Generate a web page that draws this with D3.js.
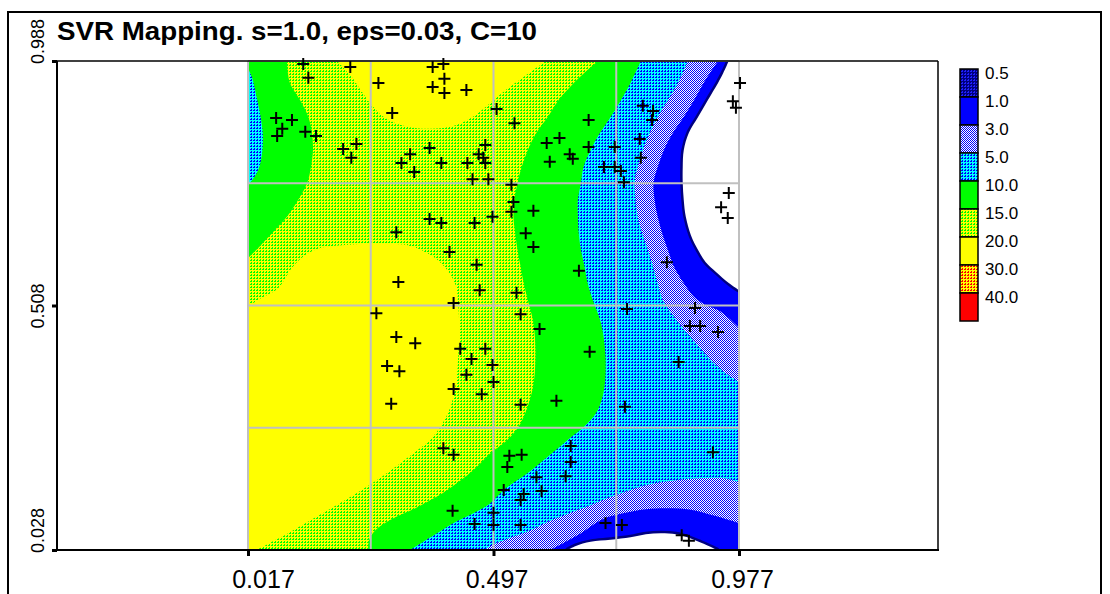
<!DOCTYPE html>
<html>
<head>
<meta charset="utf-8">
<script src="https://cdn.jsdelivr.net/npm/d3@7"></script>
<style>
	body { margin: 0; background: #fff; }
	text { font-family: 'Liberation Sans', Arial, sans-serif; }
</style>
</head>
<body>
<div id="chart"></div>
<script>
const title = 'SVR Mapping. s=1.0, eps=0.03, C=10';
const xTicks = [0.017, 0.497, 0.977];
const yTicks = [0.028, 0.508, 0.988];
const gridValuesX = [0.017, 0.257, 0.497, 0.737, 0.977];
const gridValuesY = [0.028, 0.268, 0.508, 0.748, 0.988];
const legendLevels = ['0.5', '1.0', '3.0', '5.0', '10.0', '15.0', '20.0', '30.0', '40.0'];

// contour lines, [x, y] in data units
const contour20Top = [[0.191, 0.988], [0.221, 0.955], [0.240, 0.927], [0.260, 0.900], [0.285, 0.876], [0.325, 0.860], [0.374, 0.855], [0.423, 0.862], [0.462, 0.882], [0.491, 0.906], [0.521, 0.931], [0.554, 0.955], [0.599, 0.988]];
const contour20Left = [[0.017, 0.507], [0.044, 0.523], [0.076, 0.542], [0.103, 0.582], [0.129, 0.607], [0.158, 0.621], [0.207, 0.627], [0.276, 0.629], [0.334, 0.625], [0.374, 0.607], [0.403, 0.582], [0.423, 0.548], [0.428, 0.509], [0.430, 0.460], [0.428, 0.407], [0.423, 0.352], [0.409, 0.299], [0.378, 0.250], [0.334, 0.213], [0.280, 0.173], [0.217, 0.132], [0.154, 0.095], [0.099, 0.063], [0.056, 0.040], [0.033, 0.028]];
const contour15Left = [[0.093, 0.988], [0.099, 0.945], [0.119, 0.911], [0.135, 0.878], [0.142, 0.847], [0.144, 0.813], [0.140, 0.780], [0.133, 0.749], [0.115, 0.715], [0.093, 0.682], [0.064, 0.650], [0.037, 0.621], [0.017, 0.601]];
const contour15Mid = [[0.701, 0.988], [0.654, 0.945], [0.624, 0.911], [0.603, 0.878], [0.581, 0.847], [0.564, 0.813], [0.552, 0.780], [0.544, 0.749], [0.538, 0.715], [0.536, 0.682], [0.540, 0.646], [0.544, 0.617], [0.550, 0.584], [0.556, 0.552], [0.564, 0.519], [0.575, 0.474], [0.579, 0.407], [0.573, 0.342], [0.550, 0.277], [0.524, 0.244], [0.491, 0.218], [0.458, 0.185], [0.407, 0.146], [0.348, 0.112], [0.295, 0.087], [0.266, 0.067], [0.254, 0.048], [0.252, 0.028]];
const contour10Left = [[0.017, 0.974], [0.025, 0.955], [0.033, 0.921], [0.041, 0.882], [0.046, 0.843], [0.044, 0.803], [0.037, 0.774], [0.025, 0.754], [0.017, 0.745]];
const contour10Mid = [[0.785, 0.988], [0.765, 0.945], [0.746, 0.911], [0.726, 0.878], [0.703, 0.843], [0.687, 0.813], [0.673, 0.780], [0.668, 0.749], [0.662, 0.715], [0.662, 0.682], [0.664, 0.646], [0.668, 0.617], [0.675, 0.584], [0.681, 0.552], [0.691, 0.519], [0.707, 0.474], [0.716, 0.407], [0.713, 0.342], [0.701, 0.303], [0.681, 0.277], [0.642, 0.244], [0.603, 0.211], [0.564, 0.179], [0.517, 0.146], [0.491, 0.120], [0.452, 0.097], [0.419, 0.081], [0.374, 0.053], [0.334, 0.028]];
const contour5Top = [[0.877, 0.988], [0.858, 0.945], [0.838, 0.911], [0.818, 0.878], [0.801, 0.843], [0.789, 0.813], [0.779, 0.780], [0.773, 0.749], [0.775, 0.715], [0.779, 0.682], [0.789, 0.646], [0.799, 0.617], [0.809, 0.584], [0.818, 0.552], [0.828, 0.519], [0.848, 0.489], [0.867, 0.464], [0.893, 0.434], [0.922, 0.401], [0.951, 0.375], [0.977, 0.358]];
const contour5Bottom = [[0.479, 0.028], [0.495, 0.038], [0.530, 0.052], [0.570, 0.067], [0.603, 0.083], [0.648, 0.101], [0.687, 0.116], [0.726, 0.132], [0.765, 0.146], [0.808, 0.158], [0.854, 0.165], [0.903, 0.169], [0.948, 0.169], [0.977, 0.161]];
const contour3Top = [[0.936, 0.988], [0.908, 0.945], [0.889, 0.911], [0.869, 0.878], [0.848, 0.847], [0.830, 0.813], [0.818, 0.780], [0.810, 0.749], [0.812, 0.715], [0.818, 0.682], [0.828, 0.646], [0.838, 0.617], [0.850, 0.584], [0.869, 0.552], [0.889, 0.525], [0.912, 0.509], [0.936, 0.499], [0.957, 0.483], [0.977, 0.464]];
const contour3Bottom = [[0.609, 0.028], [0.638, 0.044], [0.668, 0.061], [0.707, 0.087], [0.746, 0.099], [0.795, 0.108], [0.838, 0.110], [0.883, 0.107], [0.922, 0.097], [0.951, 0.089], [0.977, 0.081]];
const contour05Top = [[0.957, 0.988], [0.946, 0.964], [0.936, 0.945], [0.916, 0.911], [0.897, 0.878], [0.879, 0.847], [0.869, 0.813], [0.867, 0.780], [0.867, 0.749], [0.869, 0.715], [0.873, 0.682], [0.883, 0.646], [0.897, 0.617], [0.912, 0.593], [0.932, 0.574], [0.957, 0.552], [0.977, 0.538]];
const contour05Bottom = [[0.642, 0.028], [0.658, 0.036], [0.687, 0.044], [0.726, 0.048], [0.765, 0.053], [0.795, 0.059], [0.824, 0.061], [0.854, 0.059], [0.879, 0.052], [0.903, 0.042], [0.926, 0.032], [0.934, 0.028]];

// training samples
const samplePoints = [
	[0.125, 0.982], [0.135, 0.955], [0.217, 0.976], [0.272, 0.945], [0.378, 0.976], [0.399, 0.982], [0.378, 0.937], [0.401, 0.953], [0.401, 0.925], [0.444, 0.931],
	[0.299, 0.886], [0.503, 0.894], [0.072, 0.876], [0.103, 0.872], [0.084, 0.855], [0.074, 0.841], [0.129, 0.849], [0.150, 0.841], [0.203, 0.815], [0.229, 0.825],
	[0.219, 0.798], [0.372, 0.817], [0.334, 0.805], [0.317, 0.788], [0.395, 0.788], [0.342, 0.770], [0.446, 0.788], [0.481, 0.823], [0.468, 0.805], [0.477, 0.798],
	[0.481, 0.788], [0.456, 0.756], [0.487, 0.756], [0.372, 0.678], [0.395, 0.670], [0.460, 0.670], [0.495, 0.682], [0.307, 0.652], [0.411, 0.613], [0.464, 0.588],
	[0.311, 0.554], [0.470, 0.538], [0.538, 0.866], [0.683, 0.872], [0.601, 0.827], [0.626, 0.837], [0.607, 0.790], [0.646, 0.805], [0.652, 0.796], [0.683, 0.819],
	[0.734, 0.819], [0.713, 0.780], [0.734, 0.780], [0.746, 0.772], [0.752, 0.750], [0.789, 0.900], [0.809, 0.890], [0.807, 0.872], [0.783, 0.835], [0.785, 0.798],
	[0.979, 0.945], [0.965, 0.909], [0.971, 0.896], [0.532, 0.745], [0.536, 0.711], [0.532, 0.692], [0.575, 0.694], [0.560, 0.650], [0.575, 0.623], [0.664, 0.576],
	[0.542, 0.533], [0.836, 0.593], [0.957, 0.729], [0.942, 0.701], [0.955, 0.680], [0.268, 0.493], [0.419, 0.513], [0.307, 0.446], [0.344, 0.434], [0.432, 0.423],
	[0.481, 0.423], [0.454, 0.403], [0.495, 0.391], [0.289, 0.389], [0.313, 0.379], [0.444, 0.372], [0.497, 0.358], [0.419, 0.344], [0.474, 0.334], [0.297, 0.315],
	[0.399, 0.228], [0.419, 0.215], [0.417, 0.105], [0.460, 0.079], [0.497, 0.101], [0.497, 0.077], [0.550, 0.491], [0.587, 0.462], [0.685, 0.417], [0.550, 0.313],
	[0.620, 0.321], [0.758, 0.501], [0.891, 0.503], [0.881, 0.468], [0.901, 0.468], [0.936, 0.456], [0.859, 0.397], [0.754, 0.309], [0.648, 0.232], [0.552, 0.215],
	[0.528, 0.213], [0.524, 0.191], [0.648, 0.201], [0.638, 0.173], [0.581, 0.171], [0.517, 0.146], [0.591, 0.144], [0.556, 0.138], [0.550, 0.126], [0.550, 0.077],
	[0.716, 0.081], [0.748, 0.077], [0.865, 0.057], [0.879, 0.046], [0.926, 0.220]
];

const width = 1110;
const height = 594;
const plot = { left: 248, right: 739, top: 61, bottom: 550 };
const frameLeft = 57;
const frameRight = 938;
const legend = { x: 960, y: 69, w: 18, h: 28 };

const x = d3.scaleLinear().domain([0.017, 0.977]).range([plot.left, plot.right]);
const y = d3.scaleLinear().domain([0.028, 0.988]).range([plot.bottom, plot.top]);

const svg = d3.select('#chart').append('svg')
		.attr('width', width)
		.attr('height', height);
const defs = svg.append('defs');

// dithered fills like the original bitmap: 3x3 cell, an L of dots in the second colour
function hatch(id, base, dot) {
	const p = defs.append('pattern')
			.attr('id', id)
			.attr('patternUnits', 'userSpaceOnUse')
			.attr('width', 3)
			.attr('height', 3);
	p.append('rect').attr('width', 3).attr('height', 3).attr('fill', base);
	[[2, 1], [1, 2], [2, 2]].forEach(([px, py]) => {
		p.append('rect').attr('x', px).attr('y', py).attr('width', 1).attr('height', 1).attr('fill', dot);
	});
}
hatch('yg', '#ffff00', '#00ff00');
hatch('cy', '#00ffff', '#0000ff');
hatch('or', '#ffff00', '#ff0000');
hatch('nv', '#000080', '#2020ff');

const lav = defs.append('pattern')
		.attr('id', 'lav')
		.attr('patternUnits', 'userSpaceOnUse')
		.attr('width', 2)
		.attr('height', 2);
lav.append('rect').attr('width', 2).attr('height', 2).attr('fill', '#ffffff');
lav.append('rect').attr('width', 1).attr('height', 1).attr('fill', '#0000ff');
lav.append('rect').attr('x', 1).attr('y', 1).attr('width', 1).attr('height', 1).attr('fill', '#0000ff');

defs.append('clipPath').attr('id', 'plotClip')
	.append('rect')
		.attr('x', plot.left)
		.attr('y', plot.top)
		.attr('width', plot.right - plot.left)
		.attr('height', plot.bottom - plot.top);

// outer frame
svg.append('rect')
		.attr('x', 8)
		.attr('y', 12)
		.attr('width', 1093)
		.attr('height', 600)
		.attr('fill', 'none')
		.attr('stroke', '#000')
		.attr('stroke-width', 2);

svg.append('text')
		.attr('x', frameLeft)
		.attr('y', 40)
		.attr('font-size', 25)
		.attr('font-weight', 'bold')
		.attr('textLength', 480)
		.attr('lengthAdjust', 'spacingAndGlyphs')
		.text(title);

// filled contour bands
const [x0, x1] = x.domain();
const [y0, y1] = y.domain();
const pad = 0.05;
const corners = { tl: [x0 - pad, y1 + pad], tr: [x1 + pad, y1 + pad], br: [x1 + pad, y0 - pad], bl: [x0 - pad, y0 - pad] };
const eps = 0.002;

function outward(p) {
	if (p[0] <= x0 + eps) return [x0 - pad, p[1]];
	if (p[0] >= x1 - eps) return [x1 + pad, p[1]];
	if (p[1] <= y0 + eps) return [p[0], y0 - pad];
	return [p[0], y1 + pad];
}

const contourLine = d3.line()
		.x((d) => x(d[0]))
		.y((d) => y(d[1]))
		.curve(d3.curveCatmullRom.alpha(0.5));

function regionPath(pts, close) {
	const ring = [outward(pts[pts.length - 1]), ...close.map((c) => corners[c]), outward(pts[0])];
	return contourLine(pts) + ring.map((p) => `L${x(p[0])},${y(p[1])}`).join('') + 'Z';
}

const regions = [
	{ pts: contour20Top, close: [], fill: '#ffff00' },
	{ pts: contour20Left, close: ['bl'], fill: '#ffff00' },
	{ pts: contour15Left, close: ['tl'], fill: '#00ff00' },
	{ pts: contour15Mid, close: ['br', 'tr'], fill: '#00ff00' },
	{ pts: contour10Left, close: [], fill: 'url(#cy)' },
	{ pts: contour10Mid, close: ['br', 'tr'], fill: 'url(#cy)' },
	{ pts: contour5Top, close: ['tr'], fill: 'url(#lav)' },
	{ pts: contour5Bottom, close: ['br'], fill: 'url(#lav)' },
	{ pts: contour3Top, close: ['tr'], fill: '#0000ff' },
	{ pts: contour3Bottom, close: ['br'], fill: '#0000ff' },
];
const holes = [
	{ pts: contour05Top, close: ['tr'] },
	{ pts: contour05Bottom, close: [] },
];

const field = svg.append('g').attr('clip-path', 'url(#plotClip)');

field.append('rect')
		.attr('x', plot.left)
		.attr('y', plot.top)
		.attr('width', plot.right - plot.left)
		.attr('height', plot.bottom - plot.top)
		.attr('fill', 'url(#yg)');

field.selectAll('.band')
		.data(regions)
	.enter().append('path')
		.attr('class', 'band')
		.attr('d', (d) => regionPath(d.pts, d.close))
		.attr('fill', (d) => d.fill);

// thin 0.5-1.0 rim, then the empty area below 0.5
field.selectAll('.rim')
		.data(holes)
	.enter().append('path')
		.attr('class', 'rim')
		.attr('d', (d) => regionPath(d.pts, d.close))
		.attr('fill', '#000080')
		.attr('stroke', '#000080')
		.attr('stroke-width', 5)
		.attr('stroke-linejoin', 'round');

field.selectAll('.hole')
		.data(holes)
	.enter().append('path')
		.attr('class', 'hole')
		.attr('d', (d) => regionPath(d.pts, d.close))
		.attr('fill', '#ffffff');

// grid
const grid = svg.append('g')
		.attr('stroke', '#c0c0c0')
		.attr('stroke-width', 2);
grid.selectAll('.gx')
		.data(gridValuesX)
	.enter().append('line')
		.attr('x1', (d) => x(d))
		.attr('x2', (d) => x(d))
		.attr('y1', y(y0))
		.attr('y2', y(y1));
grid.selectAll('.gy')
		.data(gridValuesY)
	.enter().append('line')
		.attr('x1', x(x0))
		.attr('x2', x(x1))
		.attr('y1', (d) => y(d))
		.attr('y2', (d) => y(d));

// plot box
const box = svg.append('g').attr('stroke', '#000');
box.append('line')
		.attr('x1', frameLeft).attr('x2', frameRight)
		.attr('y1', y(y1)).attr('y2', y(y1))
		.attr('stroke-width', 1.5);
box.append('line')
		.attr('x1', frameRight).attr('x2', frameRight)
		.attr('y1', y(y1)).attr('y2', y(y0))
		.attr('stroke-width', 1.5);
box.append('line')
		.attr('x1', frameLeft).attr('x2', frameLeft)
		.attr('y1', y(y1)).attr('y2', y(y0))
		.attr('stroke-width', 2);
box.append('line')
		.attr('x1', frameLeft).attr('x2', frameRight + 1)
		.attr('y1', y(y0)).attr('y2', y(y0))
		.attr('stroke-width', 2);

// axes (the end labels sit off-centre in the original)
const xAxis = svg.append('g')
		.attr('transform', `translate(0, ${y(y0)})`)
		.call(d3.axisBottom(x).tickValues(xTicks).tickSize(6).tickFormat(d3.format('.3f')));
xAxis.select('.domain').remove();
xAxis.selectAll('line').attr('stroke', '#000').attr('stroke-width', 3);
xAxis.selectAll('text')
		.attr('y', 38)
		.attr('dy', 0)
		.attr('dx', (d, i) => (i === 0 ? 15 : 3))
		.attr('font-size', 25)
		.attr('fill', '#000');

const yAxis = svg.append('g')
		.attr('transform', `translate(${frameLeft}, 0)`)
		.call(d3.axisLeft(y).tickValues(yTicks).tickSize(5).tickFormat(d3.format('.3f')));
yAxis.select('.domain').remove();
yAxis.selectAll('line').attr('stroke', '#000').attr('stroke-width', 3);
yAxis.selectAll('text')
		.attr('transform', 'rotate(-90)')
		.attr('text-anchor', 'middle')
		.attr('x', (d, i) => (i === 1 ? 0 : 20))
		.attr('y', -13)
		.attr('dy', 0)
		.attr('font-size', 18)
		.attr('fill', '#000');

// samples
svg.append('g').selectAll('.sample')
		.data(samplePoints)
	.enter().append('path')
		.attr('class', 'sample')
		.attr('transform', (d) => `translate(${x(d[0])}, ${y(d[1])})`)
		.attr('d', 'M-6,0H6M0,-6V6')
		.attr('stroke', '#000')
		.attr('stroke-width', 2);

// legend
const legendFills = ['url(#nv)', '#0000ff', 'url(#lav)', 'url(#cy)', '#00ff00', 'url(#yg)', '#ffff00', 'url(#or)', '#ff0000'];
const lg = svg.append('g');
lg.selectAll('rect')
		.data(legendLevels)
	.enter().append('rect')
		.attr('x', legend.x)
		.attr('y', (d, i) => legend.y + i * legend.h)
		.attr('width', legend.w)
		.attr('height', legend.h)
		.attr('fill', (d, i) => legendFills[i])
		.attr('stroke', '#000')
		.attr('stroke-width', 1.5);
lg.selectAll('text')
		.data(legendLevels)
	.enter().append('text')
		.attr('x', legend.x + legend.w + 7)
		.attr('y', (d, i) => legend.y + i * legend.h + 4)
		.attr('dy', '0.35em')
		.attr('font-size', 17)
		.text((d) => d);
</script>
</body>
</html>
